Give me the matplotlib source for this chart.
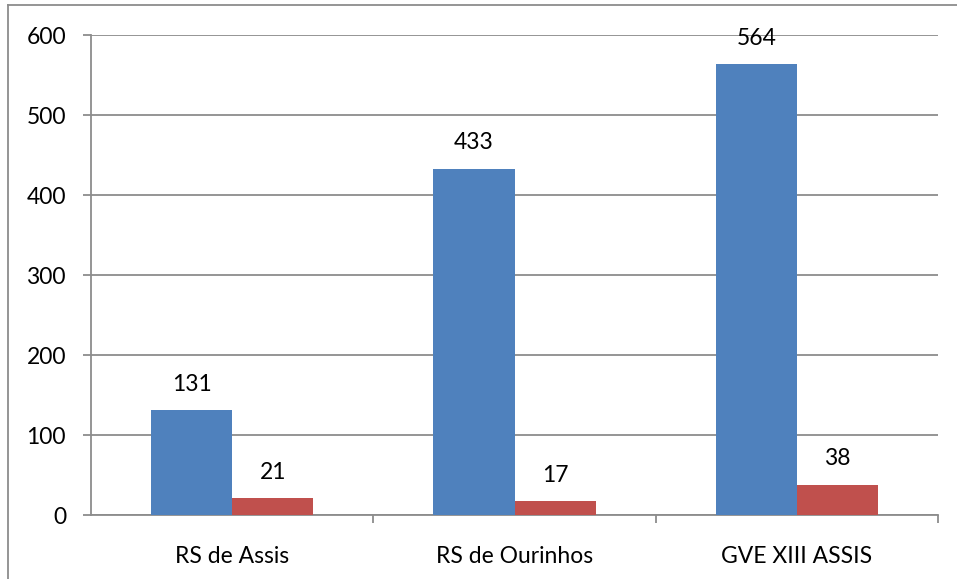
import matplotlib
matplotlib.use("Agg")
import matplotlib.pyplot as plt
from matplotlib.lines import Line2D
import numpy as np

categories = ["RS de Assis", "RS de Ourinhos", "GVE XIII ASSIS"]
series_a = [131, 433, 564]
series_b = [21, 17, 38]
y_ticks = [0, 100, 200, 300, 400, 500, 600]

plt.rcParams['font.family'] = ['Lato', 'DejaVu Sans']

W, H = 957, 579
fig = plt.figure(figsize=(W / 100, H / 100), dpi=100)
ax = fig.add_axes([91 / W, 1 - 515 / H, (938 - 91) / W, (515 - 35) / H])

x = np.arange(len(categories))
bw = 0.287
blue = "#4F81BD"
red = "#C0504D"
fs = 16.5
ax.bar(x - bw / 2, series_a, width=bw, color=blue, zorder=3)
ax.bar(x + bw / 2, series_b, width=bw, color=red, zorder=3)

for xi, v in zip(x - bw / 2, series_a):
    ax.annotate(str(v), (xi, v), xytext=(0, 11), textcoords="offset points",
                ha="center", va="bottom", fontsize=fs, color="black")
for xi, v in zip(x + bw / 2, series_b):
    ax.annotate(str(v), (xi, v), xytext=(0, 11), textcoords="offset points",
                ha="center", va="bottom", fontsize=fs, color="black")

ax.set_xlim(-0.5, 2.5)
ax.set_ylim(0, 600)
ax.set_yticks(y_ticks)
ax.yaxis.grid(True, color="#8c8c8c", linewidth=1.3, zorder=0)
ax.set_axisbelow(True)
ax.set_xticks(x)
ax.set_xticklabels(categories)
ax.set_xticks([0.5, 1.5, 2.5], minor=True)
ax.tick_params(axis="x", which="major", length=0, pad=22, labelsize=fs)
ax.tick_params(axis="x", which="minor", length=6, width=1.3, color="#8c8c8c", direction="out")
ax.tick_params(axis="y", length=6, width=1.3, color="#8c8c8c", labelsize=fs, pad=12)
for s in ["top", "right"]:
    ax.spines[s].set_visible(False)
for s in ["left", "bottom"]:
    ax.spines[s].set_color("#8c8c8c")
    ax.spines[s].set_linewidth(1.3)

# outer chart border
fig.add_artist(Line2D([8 / W, 1], [1 - 5 / H, 1 - 5 / H], transform=fig.transFigure,
                      color="#8c8c8c", linewidth=1.3))
fig.add_artist(Line2D([8 / W, 8 / W], [0, 1 - 5 / H], transform=fig.transFigure,
                      color="#8c8c8c", linewidth=1.3))

fig.savefig("out.png", dpi=100)
